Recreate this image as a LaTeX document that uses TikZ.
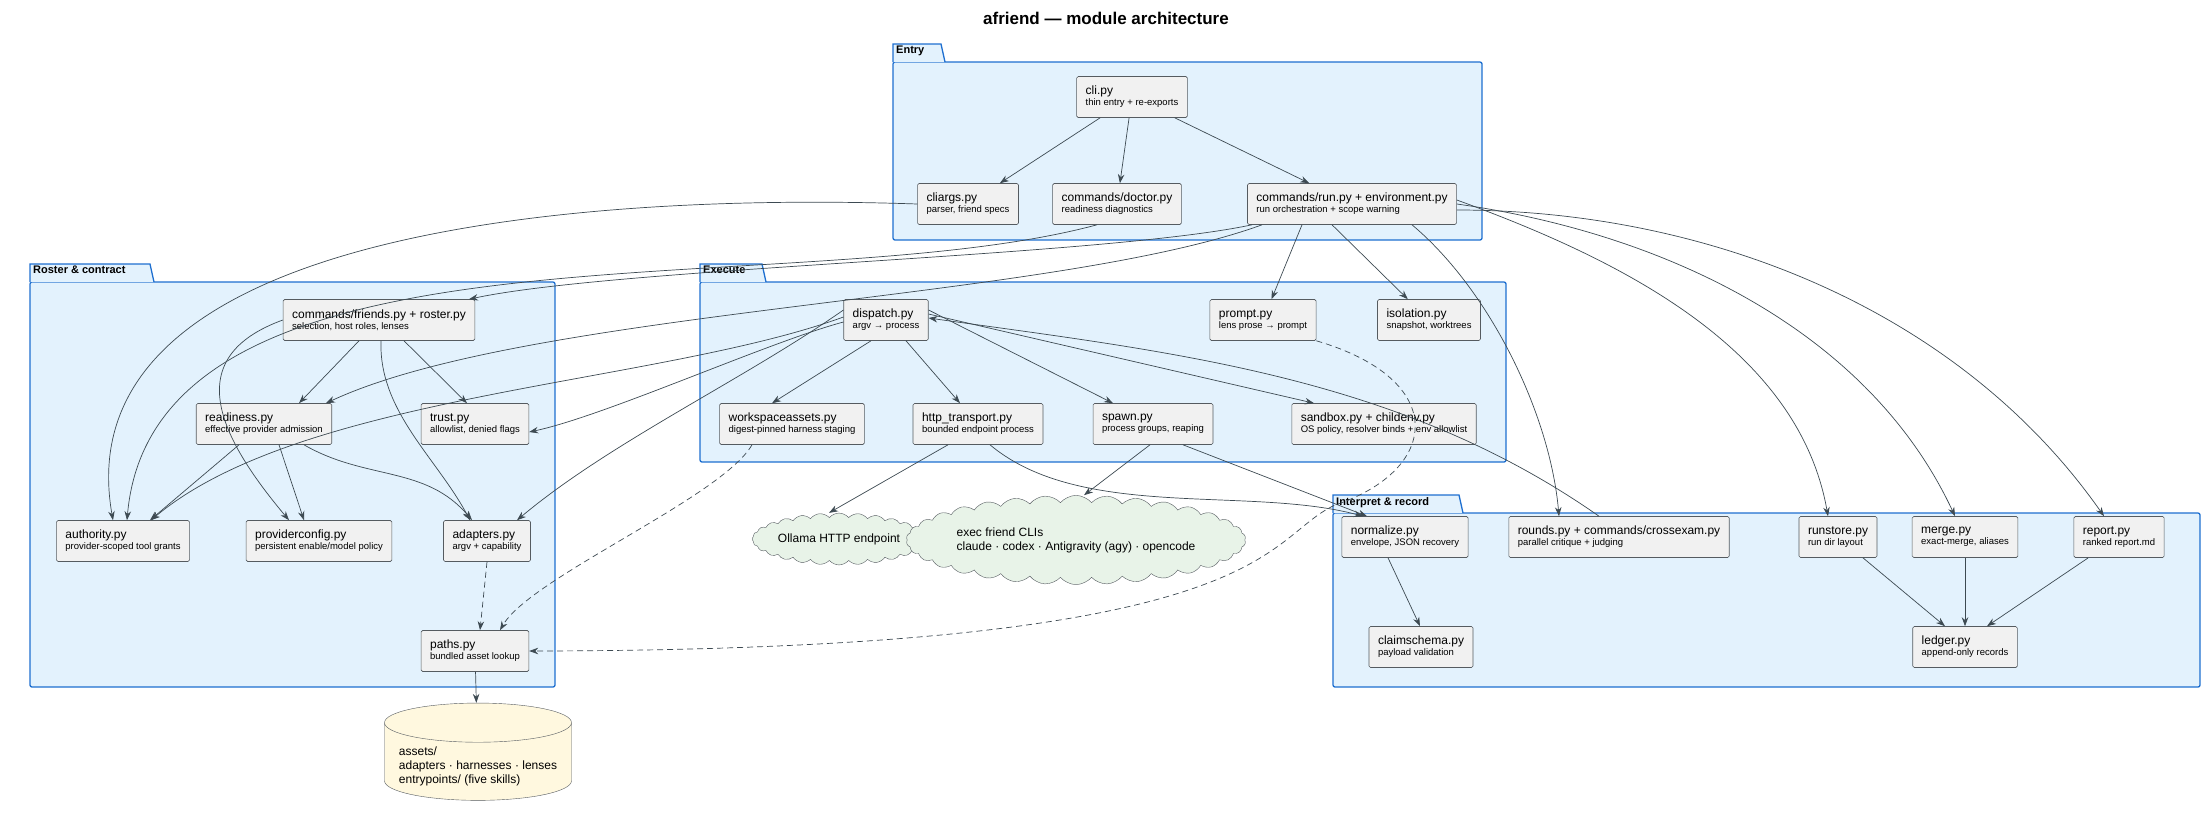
\documentclass[tikz,border=0pt]{standalone}
\usepackage{fontspec}
\setmainfont{Liberation Sans}
\usetikzlibrary{arrows.meta, shapes.geometric, shapes.symbols}

\definecolor{pkgfill}{HTML}{E3F2FD}
\definecolor{pkgline}{HTML}{1E6FD0}
\definecolor{modfill}{HTML}{F1F1F1}
\definecolor{modline}{HTML}{555B60}
\definecolor{edge}{HTML}{3D4A52}
\definecolor{cloudfill}{HTML}{E8F3E8}
\definecolor{dbfill}{HTML}{FFF8DF}

\newcommand{\modtext}[2]{{\fontsize{12}{14}\selectfont #1}\\[-1pt]{\fontsize{9.5}{11}\selectfont #2}}
% package frame with a tab: x1, y1 (tab top), x2, y2, tab width, label
\newcommand{\pkgframe}[6]{%
  \draw[pkgline, fill=pkgfill, line width=1.3pt, rounded corners=2pt]
    (#1,#2+18) rectangle (#3,#4);
  \draw[pkgline, fill=pkgfill, line width=1.3pt]
    (#1,#2+18) -- (#1,#2) -- (#1+#5,#2) -- (#1+#5+4,#2+18);
  \node[anchor=north west, inner sep=2pt, font=\fontsize{11}{13}\selectfont\bfseries] at (#1+1,#2) {#6};
}

\begin{document}
\begin{tikzpicture}[x=1pt, y=-1pt,
    mod/.style={rectangle, draw=modline, fill=modfill, rounded corners=1.5pt, align=left,
      minimum height=41pt, inner xsep=9pt, inner ysep=4pt, line width=0.6pt},
    arr/.style={-{Stealth[length=9pt, width=6.5pt]}, draw=edge, line width=0.7pt},
    dep/.style={arr, dashed, dash pattern=on 6pt off 4pt}
]
\useasboundingbox (0,0) rectangle (2212,823);

\node[font=\fontsize{17}{20}\selectfont\bfseries] (title) at (1106,18) {afriend — module architecture};

% packages
\pkgframe{893}{44}{1482}{240}{48}{Entry}
\pkgframe{30}{264}{555}{687}{120}{Roster \& contract}
\pkgframe{700}{264}{1506}{462}{62}{Execute}
\pkgframe{1333}{495}{2200}{687}{126}{Interpret \& record}

% Entry
\node[mod] (cli) at (1132,97) {\modtext{cli.py}{thin entry + re-exports}};
\node[mod] (cliargs) at (968,204) {\modtext{cliargs.py}{parser, friend specs}};
\node[mod] (doctor) at (1117,204) {\modtext{commands/doctor.py}{readiness diagnostics}};
\node[mod] (run) at (1352,204) {\modtext{commands/run.py + environment.py}{run orchestration + scope warning}};

% Roster & contract
\node[mod] (friends) at (379,320) {\modtext{commands/friends.py + roster.py}{selection, host roles, lenses}};
\node[mod] (readiness) at (264,424) {\modtext{readiness.py}{effective provider admission}};
\node[mod] (trust) at (475,424) {\modtext{trust.py}{allowlist, denied flags}};
\node[mod] (authority) at (123,541) {\modtext{authority.py}{provider-scoped tool grants}};
\node[mod] (providerconfig) at (319,541) {\modtext{providerconfig.py}{persistent enable/model policy}};
\node[mod] (adapters) at (487,541) {\modtext{adapters.py}{argv + capability}};
\node[mod] (paths) at (475,651) {\modtext{paths.py}{bundled asset lookup}};

% Execute
\node[mod] (dispatch) at (886,320) {\modtext{dispatch.py}{argv → process}};
\node[mod] (prompt) at (1263,320) {\modtext{prompt.py}{lens prose → prompt}};
\node[mod] (isolation) at (1429,320) {\modtext{isolation.py}{snapshot, worktrees}};
\node[mod] (workspace) at (792,424) {\modtext{workspaceassets.py}{digest-pinned harness staging}};
\node[mod] (http) at (978,424) {\modtext{http\_transport.py}{bounded endpoint process}};
\node[mod] (spawn) at (1153,424) {\modtext{spawn.py}{process groups, reaping}};
\node[mod] (sandbox) at (1384,424) {\modtext{sandbox.py + childenv.py}{OS policy, resolver binds + env allowlist}};

% Interpret & record
\node[mod] (normalize) at (1405,537) {\modtext{normalize.py}{envelope, JSON recovery}};
\node[mod] (rounds) at (1619,537) {\modtext{rounds.py + commands/crossexam.py}{parallel critique + judging}};
\node[mod] (runstore) at (1838,537) {\modtext{runstore.py}{run dir layout}};
\node[mod] (merge) at (1965,537) {\modtext{merge.py}{exact-merge, aliases}};
\node[mod] (report) at (2119,537) {\modtext{report.py}{ranked report.md}};
\node[mod] (claimschema) at (1421,647) {\modtext{claimschema.py}{payload validation}};
\node[mod] (ledger) at (1965,647) {\modtext{ledger.py}{append-only records}};

% outside
\node[cloud, cloud puffs=28, cloud puff arc=100, aspect=4, draw=modline, fill=cloudfill,
  inner sep=0pt, minimum width=166pt, minimum height=44pt, font=\fontsize{12}{14}\selectfont] (ollama) at (839,539) {Ollama HTTP endpoint};
\node[cloud, cloud puffs=34, cloud puff arc=100, aspect=4.5, draw=modline, fill=cloudfill, align=left,
  inner sep=0pt, minimum width=252pt, minimum height=58pt, font=\fontsize{12}{14}\selectfont] (execclis) at (1076,540) {exec friend CLIs\\claude · codex · Antigravity (agy) · opencode};
\node[cylinder, shape border rotate=90, aspect=0.22, draw=modline, fill=dbfill, align=left,
  minimum width=187pt, minimum height=66pt, inner xsep=10pt, font=\fontsize{12}{14}\selectfont] (assets) at (478,766)
  {\\[-4pt]assets/\\adapters · harnesses · lenses\\entrypoints/ (five skills)};

% entry edges
\draw[arr] (cli) -- (cliargs);
\draw[arr] (cli) -- (doctor);
\draw[arr] (cli) -- (run);
\draw[arr] (cliargs.west) to[out=178, in=100, looseness=0.9] ([xshift=-10pt]authority.north);
\draw[arr] ([xshift=-20pt]doctor.south) to[out=195, in=85, looseness=0.8] ([xshift=4pt]authority.north);
\draw[arr] ([xshift=-100pt]run.south) to[out=192, in=12, looseness=0.5] ([xshift=90pt]friends.north);
\draw[arr] ([xshift=-90pt]run.south) to[out=200, in=25, looseness=0.6] ([xshift=62pt]readiness.north);
\draw[arr] ([xshift=-50pt]run.south) -- (prompt);
\draw[arr] ([xshift=-20pt]run.south) -- (isolation);
\draw[arr] ([xshift=60pt]run.south) to[out=-40, in=95, looseness=0.8] ([xshift=-60pt]rounds.north);
\draw[arr] ([yshift=4pt]run.east) to[out=-20, in=100, looseness=0.9] ([xshift=-10pt]runstore.north);
\draw[arr] (run.east) to[out=-8, in=115, looseness=0.9] ([xshift=-10pt]merge.north);
\draw[arr] ([yshift=-6pt]run.east) to[out=0, in=125, looseness=0.9] ([xshift=-15pt]report.north);

% roster edges
\draw[arr] ([xshift=-20pt]friends.south) -- ([xshift=35pt]readiness.north);
\draw[arr] ([xshift=25pt]friends.south) -- ([xshift=-8pt]trust.north);
\draw[arr] ([xshift=2pt]friends.south) to[out=-92, in=118, looseness=0.9] ([xshift=-17pt]adapters.north);
\draw[arr] (friends.west) to[out=200, in=130, looseness=1.4] ([xshift=-30pt]providerconfig.north);
\draw[arr] ([xshift=-25pt]readiness.south) -- ([xshift=27pt]authority.north);
\draw[arr] ([xshift=15pt]readiness.south) -- ([xshift=-15pt]providerconfig.north);
\draw[arr] ([xshift=40pt]readiness.south) to[out=-30, in=130] ([xshift=-15pt]adapters.north);
\draw[dep] (adapters.south) -- ([xshift=5pt]paths.north);
\draw[arr] (paths) -- (assets);

% execute edges
\draw[arr] ([xshift=-15pt]dispatch.south) -- ([xshift=-20pt]workspace.north);
\draw[arr] ([xshift=20pt]dispatch.south) -- ([xshift=-18pt]http.north);
\draw[arr] ([yshift=10pt]dispatch.east) -- ([xshift=-40pt]spawn.north);
\draw[arr] ([yshift=6pt]dispatch.east) -- ([xshift=-70pt]sandbox.north);
\draw[arr] ([yshift=-2pt]dispatch.west) to[out=195, in=12, looseness=0.6] ([yshift=-8pt]trust.east);
\draw[arr] ([yshift=3pt]dispatch.west) to[out=200, in=40, looseness=0.7] ([xshift=28pt]authority.north);
\draw[arr] ([yshift=10pt]dispatch.west) to[out=215, in=40, looseness=0.8] ([xshift=30pt]adapters.north);
\draw[arr] ([xshift=-20pt]rounds.north) to[out=145, in=-8, looseness=0.9] ([yshift=2pt]dispatch.east);
\draw[dep] ([xshift=-40pt]workspace.south) to[out=-120, in=60, looseness=0.5] ([xshift=25pt]paths.north);
\draw[dep] (prompt.south east) .. controls (1450,380) and (1440,470) .. (1335,505)
  .. controls (1260,540) and (1280,650) .. (paths.east);
\draw[arr] ([xshift=-30pt]http.south) -- ([xshift=-10pt]ollama.north);
\draw[arr] ([xshift=12pt]http.south) to[out=-40, in=165, looseness=0.8] ([xshift=-42pt]normalize.north);
\draw[arr] ([xshift=-3pt]spawn.south) -- ([xshift=8pt]execclis.north);
\draw[arr] ([xshift=30pt]spawn.south) -- ([xshift=-38pt]normalize.north);

% interpret edges
\draw[arr] ([xshift=-17pt]normalize.south) -- ([xshift=-1pt]claimschema.north);
\draw[arr] (runstore) -- ([xshift=-20pt]ledger.north);
\draw[arr] (merge) -- (ledger);
\draw[arr] (report) -- ([xshift=22pt]ledger.north);
\end{tikzpicture}
\end{document}
